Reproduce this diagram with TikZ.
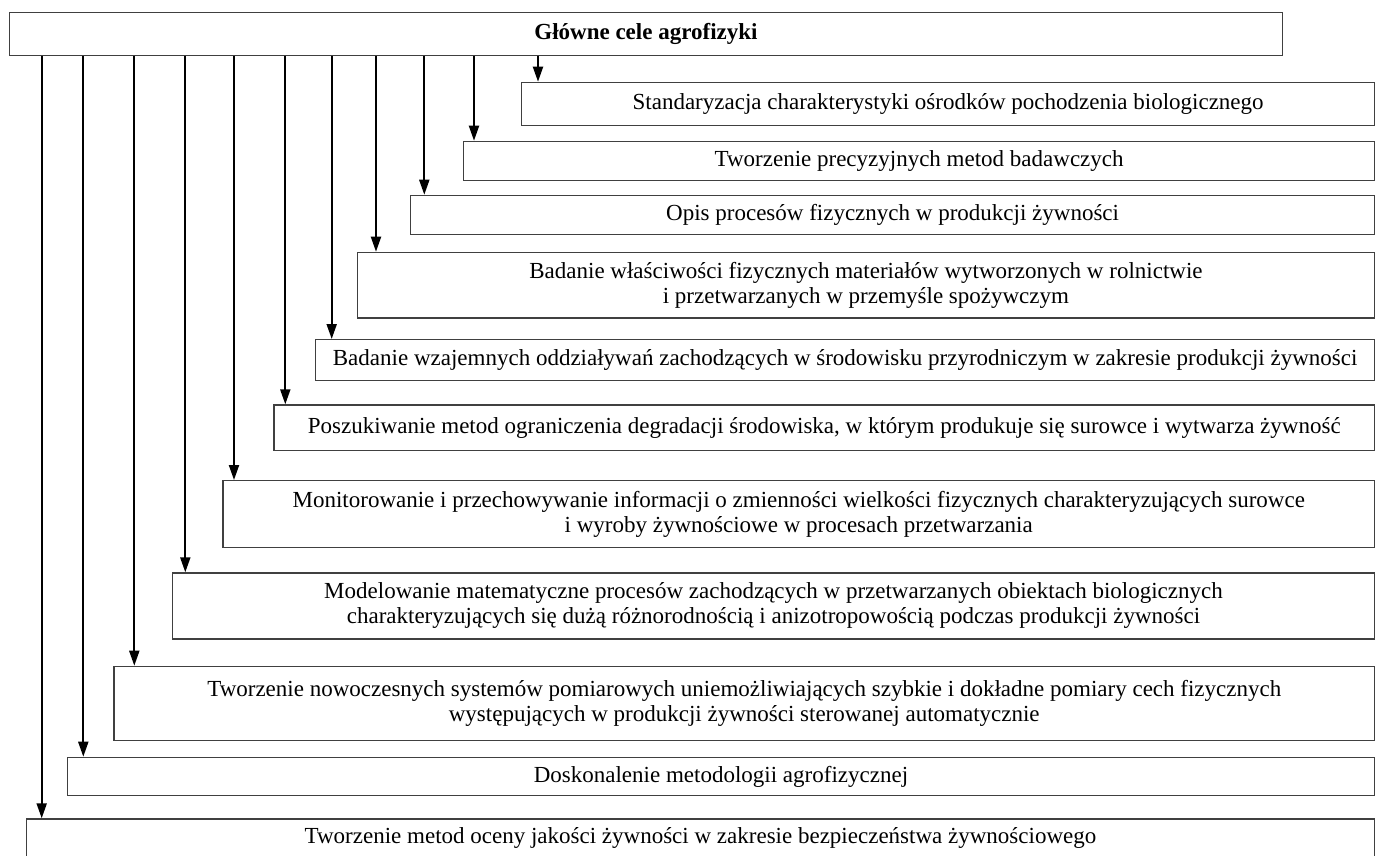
\documentclass[tikz,border=0pt]{standalone}
\usepackage{fontspec}
\setmainfont{Liberation Serif}
\usetikzlibrary{arrows.meta}

\begin{document}
\begin{tikzpicture}[x=1pt,y=-1pt,
  goal/.style={draw=black!75, line width=1.2pt, fill=white, inner sep=0pt,
    align=center, anchor=north west, font=\fontsize{23}{25}\selectfont},
  head/.style={goal, font=\fontsize{23}{25}\selectfont\bfseries},
  arr/.style={line width=2pt, -{Triangle[length=15pt,width=10pt]}}]
\useasboundingbox (0,0) rectangle (1379,855);
\clip (0,0) rectangle (1379,855);
\fill[white] (0,0) rectangle (1379,855);

% header box
\node[head, minimum width=1272.7pt, minimum height=43.3pt] (title) at (9,11.7) {Główne cele agrofizyki};

% goal boxes, right edges all at x = 1374
\node[goal, minimum width=853pt,    minimum height=43.3pt] (g1)  at (521,81.7)   {Standaryzacja charakterystyki ośrodków pochodzenia biologicznego};
\node[goal, minimum width=911pt,    minimum height=39.3pt] (g2)  at (463,140.7)  {Tworzenie precyzyjnych metod badawczych};
\node[goal, minimum width=964pt,    minimum height=39.3pt] (g3)  at (410,194.7)  {Opis procesów fizycznych w produkcji żywności};
\node[goal, minimum width=1017.3pt, minimum height=65.6pt] (g4)  at (356.7,251.7) {Badanie właściwości fizycznych materiałów wytworzonych w rolnictwie\\ i przetwarzanych w przemyśle spożywczym};
\node[goal, minimum width=1059pt,   minimum height=41pt]   (g5)  at (315,339)    {Badanie wzajemnych oddziaływań zachodzących w środowisku przyrodniczym w zakresie produkcji żywności};
\node[goal, minimum width=1100.7pt, minimum height=45.7pt] (g6)  at (273.3,404.3) {Poszukiwanie metod ograniczenia degradacji środowiska, w którym produkuje się surowce i wytwarza żywność};
\node[goal, minimum width=1151.7pt, minimum height=66.7pt] (g7)  at (222.3,480)  {Monitorowanie i przechowywanie informacji o zmienności wielkości fizycznych charakteryzujących surowce\\ i wyroby żywnościowe w procesach przetwarzania};
\node[goal, minimum width=1202.3pt, minimum height=66pt]   (g8)  at (171.7,572.3) {Modelowanie matematyczne procesów zachodzących w przetwarzanych obiektach biologicznych\\ charakteryzujących się dużą różnorodnością i anizotropowością podczas produkcji żywności};
\node[goal, minimum width=1260.7pt, minimum height=74.3pt] (g9)  at (113.3,665.7) {Tworzenie nowoczesnych systemów pomiarowych uniemożliwiających szybkie i dokładne pomiary cech fizycznych\\ występujących w produkcji żywności sterowanej automatycznie};
\node[goal, minimum width=1307.3pt, minimum height=38.3pt] (g10) at (66.7,756.7) {Doskonalenie metodologii agrofizycznej};
\node[goal, minimum width=1348.3pt, minimum height=38pt]   (g11) at (25.7,818.3) {Tworzenie metod oceny jakości żywności w zakresie bezpieczeństwa żywnościowego};

% columns of the connectors
\coordinate (c1)  at (538,0);
\coordinate (c2)  at (474,0);
\coordinate (c3)  at (424.3,0);
\coordinate (c4)  at (376,0);
\coordinate (c5)  at (331.7,0);
\coordinate (c6)  at (285.3,0);
\coordinate (c7)  at (234,0);
\coordinate (c8)  at (185.3,0);
\coordinate (c9)  at (134.3,0);
\coordinate (c10) at (83.3,0);
\coordinate (c11) at (41.7,0);

\foreach \i in {1,...,11}
  \draw[arr] (title.south -| c\i) -- (g\i.north -| c\i);
\end{tikzpicture}
\end{document}
